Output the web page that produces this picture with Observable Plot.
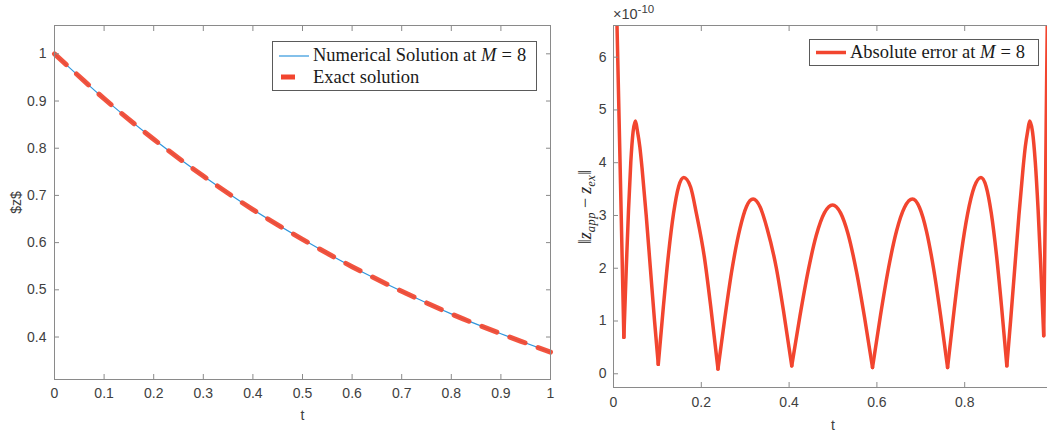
<!DOCTYPE html>
<html>
<head>
<meta charset="utf-8">
<script src="https://cdn.jsdelivr.net/npm/d3@7"></script>
<script src="https://cdn.jsdelivr.net/npm/@observablehq/plot@0.6"></script>
<style>
  body { margin: 0; background: #fff; overflow: hidden; }
  #wrap { position: relative; width: 1047px; height: 433px; overflow: hidden; background: #fff; }
  .panel { position: absolute; top: 0; }
  .legend { position: absolute; background: #fff; border: 1px solid #5a5a5a; font-family: "Liberation Serif", "Times New Roman", serif; font-size: 18.5px; color: #1a1a1a; box-sizing: border-box; }
  .legend svg { position: absolute; left: 0; top: 0; }
  .legend .lab { position: absolute; white-space: nowrap; line-height: 20px; }
  .legend i { font-style: italic; }
  .legend .eq { margin: 0 5px; }
  .mult { position: absolute; font-family: "Liberation Sans", Arial, sans-serif; font-size: 14.5px; color: #404040; line-height: 16px; }
  .mult sup { font-size: 11.5px; vertical-align: 6px; line-height: 0; }
  .ylab2 { position: absolute; font-family: "Liberation Serif", "Times New Roman", serif; font-size: 18px; color: #262626; white-space: nowrap; line-height: 20px; transform-origin: 0 0; transform: rotate(-90deg) translate(-50%, 0); }
  .ylab2 i { font-style: italic; }
  .ylab2 sub { font-size: 12.5px; font-style: italic; vertical-align: -4px; line-height: 0; letter-spacing: 0.5px; }
  .ylab2 .op { margin: 0 4px; }
</style>
</head>
<body>
<div id="wrap"></div>
<script>
// ---------- Data ----------
// Left panel: solution z(t)
const tSamples   = [0, 0.1, 0.2, 0.3, 0.4, 0.5, 0.6, 0.7, 0.8, 0.9, 1.0];
const zNumerical = [1.000, 0.905, 0.819, 0.741, 0.670, 0.607, 0.549, 0.497, 0.449, 0.407, 0.368];
const zExact     = [1.000, 0.905, 0.819, 0.741, 0.670, 0.607, 0.549, 0.497, 0.449, 0.407, 0.368];
const leftXTicks = [0, 0.1, 0.2, 0.3, 0.4, 0.5, 0.6, 0.7, 0.8, 0.9, 1];
const leftYTicks = [0.4, 0.5, 0.6, 0.7, 0.8, 0.9, 1];

// Right panel: absolute error (units of 1e-10), one arc between successive minima
const errArcT = [
  [0, 0.008, 0.016, 0.0236],
  [0.0236, 0.0289, 0.0342, 0.0394, 0.0447, 0.050, 0.0545, 0.060, 0.065, 0.0745, 0.084, 0.0935, 0.102],
  [0.102, 0.1136, 0.1252, 0.1368, 0.1484, 0.160, 0.1756, 0.189, 0.2068, 0.2224, 0.238],
  [0.238, 0.254, 0.270, 0.288, 0.303, 0.318, 0.334, 0.350, 0.3708, 0.3884, 0.406],
  [0.406, 0.4246, 0.4432, 0.4618, 0.4804, 0.499, 0.5172, 0.534, 0.5536, 0.5718, 0.590],
  [0.590, 0.6082, 0.6264, 0.6446, 0.6628, 0.681, 0.697, 0.713, 0.729, 0.745, 0.761],
  [0.761, 0.7762, 0.7914, 0.8066, 0.8218, 0.837, 0.8488, 0.8606, 0.8724, 0.8842, 0.896],
  [0.896, 0.9045, 0.914, 0.9235, 0.933, 0.938, 0.9435, 0.948, 0.9544, 0.9608, 0.9672, 0.9736, 0.980],
  [0.980, 0.984, 0.988, 1.0]
];
const errArcV = [
  [9.5, 6.6, 3.6, 0.69],
  [0.69, 1.96, 3.10, 4.01, 4.59, 4.79, 4.60, 4.30, 3.90, 3.00, 2.00, 1.00, 0.18],
  [0.18, 1.27, 2.26, 3.04, 3.55, 3.72, 3.54, 3.03, 2.22, 1.21, 0.09],
  [0.09, 1.08, 1.98, 2.75, 3.17, 3.31, 3.16, 2.75, 2.01, 1.13, 0.15],
  [0.15, 1.09, 1.94, 2.62, 3.05, 3.20, 3.05, 2.66, 1.93, 1.07, 0.12],
  [0.12, 1.11, 2.00, 2.70, 3.15, 3.31, 3.15, 2.70, 2.00, 1.11, 0.12],
  [0.12, 1.23, 2.24, 3.03, 3.54, 3.72, 3.55, 3.04, 2.25, 1.25, 0.15],
  [0.15, 1.00, 2.00, 3.00, 3.90, 4.30, 4.60, 4.79, 4.59, 4.01, 3.11, 1.98, 0.72],
  [0.72, 3.4, 6.6, 9.5]
];
const rightXTicks = [0, 0.2, 0.4, 0.6, 0.8];
const rightYTicks = [0, 1, 2, 3, 4, 5, 6];

// ---------- Styles ----------
const BLUE = "#2f96dc";
const RED = "#f2452f";
const AXIS = "#8a8a8a";
const TEXT = "#404040";
const fmt = d => String(+d.toFixed(2));

const numRows = tSamples.map((t, i) => ({t, z: zNumerical[i]}));
const exRows = tSamples.map((t, i) => ({t, z: zExact[i]}));
const errRows = errArcT.flatMap((ts, a) => ts.map((t, i) => ({t, v: errArcV[a][i], arc: a})));

const baseStyle = {fontFamily: "'Liberation Sans', Arial, sans-serif", fontSize: "14px", color: TEXT, background: "transparent", overflow: "visible"};

const left = Plot.plot({
  width: 570, height: 433,
  marginLeft: 54, marginRight: 20, marginTop: 25, marginBottom: 54,
  style: baseStyle,
  x: {domain: [0, 1]},
  y: {domain: [0.31, 1.06]},
  marks: [
    Plot.line(numRows, {x: "t", y: "z", stroke: BLUE, strokeWidth: 1.2, curve: "catmull-rom"}),
    Plot.line(exRows, {x: "t", y: "z", stroke: RED, strokeWidth: 5, strokeDasharray: "16,14", strokeOpacity: 0.92, curve: "catmull-rom"}),
    Plot.frame({stroke: AXIS}),
    Plot.axisX(leftXTicks, {anchor: "bottom", tickSize: 5, dy: -5, fill: "none", stroke: AXIS, label: null}),
    Plot.axisX(leftXTicks, {anchor: "top", tickSize: 5, dy: 5, fill: "none", stroke: AXIS, label: null}),
    Plot.axisY(leftYTicks, {anchor: "left", tickSize: 5, dx: 5, fill: "none", stroke: AXIS, label: null}),
    Plot.axisY(leftYTicks, {anchor: "right", tickSize: 5, dx: -5, fill: "none", stroke: AXIS, label: null}),
    Plot.axisX(leftXTicks, {anchor: "bottom", tickSize: 0, tickPadding: 9, tickFormat: fmt, fill: TEXT, label: "t", labelAnchor: "center", labelArrow: "none", labelOffset: 40}),
    Plot.axisY(leftYTicks, {anchor: "left", tickSize: 0, tickPadding: 8, tickFormat: fmt, fill: TEXT, label: "$z$", labelAnchor: "center", labelArrow: "none", labelOffset: 43})
  ]
});
left.classList.add("panel");
left.style.left = "0px";

const right = Plot.plot({
  width: 482, height: 433,
  marginLeft: 43, marginRight: 0, marginTop: 25, marginBottom: 46,
  style: baseStyle,
  x: {domain: [0, 1]},
  y: {domain: [-0.26, 6.6]},
  marks: [
    Plot.line(errRows, {x: "t", y: "v", z: "arc", stroke: RED, strokeWidth: 3.5, curve: "monotone-x", clip: true}),
    Plot.frame({stroke: AXIS}),
    Plot.axisX(rightXTicks, {anchor: "bottom", tickSize: 5, dy: -5, fill: "none", stroke: AXIS, label: null}),
    Plot.axisX(rightXTicks, {anchor: "top", tickSize: 5, dy: 5, fill: "none", stroke: AXIS, label: null}),
    Plot.axisY(rightYTicks, {anchor: "left", tickSize: 5, dx: 5, fill: "none", stroke: AXIS, label: null}),
    Plot.axisX(rightXTicks, {anchor: "bottom", tickSize: 0, tickPadding: 10, tickFormat: fmt, fill: TEXT, label: "t", labelAnchor: "center", labelArrow: "none", labelOffset: 42}),
    Plot.axisY(rightYTicks, {anchor: "left", tickSize: 0, tickPadding: 7, tickFormat: fmt, fill: TEXT, label: null})
  ]
});
right.classList.add("panel");
right.style.left = "570px";

const wrap = document.getElementById("wrap");
wrap.appendChild(left);
wrap.appendChild(right);

// multiplier above right panel
const mult = document.createElement("div");
mult.className = "mult";
mult.style.left = "613px"; mult.style.top = "6px";
mult.innerHTML = "&times;10<sup>-10</sup>";
wrap.appendChild(mult);

// right y label (rotated, centred on the plot area)
const yl = document.createElement("div");
yl.className = "ylab2";
yl.style.left = "575px"; yl.style.top = "207px";
yl.innerHTML = "&#8214;<i>z</i><sub>app</sub><span class=\"op\">&minus;</span><i>z</i><sub>ex</sub>&#8214;";
wrap.appendChild(yl);

// left legend
const lg1 = document.createElement("div");
lg1.className = "legend";
Object.assign(lg1.style, {left: "272px", top: "41px", width: "265px", height: "50px"});
lg1.innerHTML = `
  <svg width="263" height="48">
    <line x1="6" x2="36" y1="14" y2="14" stroke="${BLUE}" stroke-width="1.2"/>
    <line x1="8" x2="22" y1="35" y2="35" stroke="${RED}" stroke-width="5"/>
  </svg>
  <div class="lab" style="left:40px;top:3px">Numerical Solution at <i>M</i><span class="eq">=</span>8</div>
  <div class="lab" style="left:40px;top:25px">Exact solution</div>`;
wrap.appendChild(lg1);

// right legend
const lg2 = document.createElement("div");
lg2.className = "legend";
Object.assign(lg2.style, {left: "809px", top: "39px", width: "230px", height: "27px"});
lg2.innerHTML = `
  <svg width="228" height="25">
    <line x1="6" x2="36" y1="12.5" y2="12.5" stroke="${RED}" stroke-width="3.5"/>
  </svg>
  <div class="lab" style="left:40px;top:2px">Absolute error at <i>M</i><span class="eq">=</span>8</div>`;
wrap.appendChild(lg2);
</script>
</body>
</html>
